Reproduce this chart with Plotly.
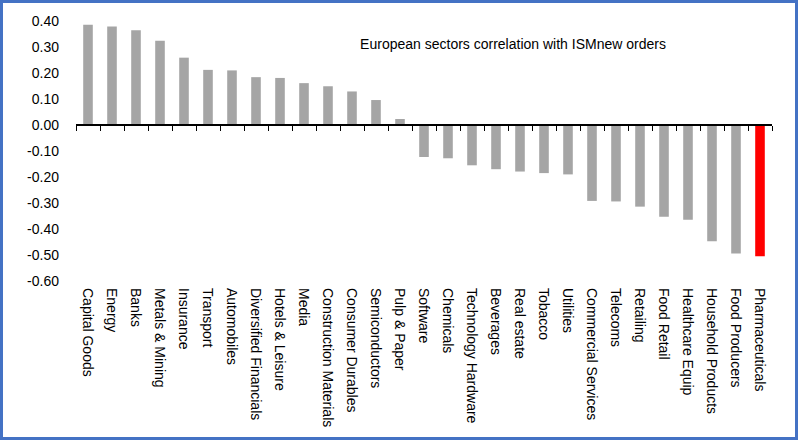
import plotly.graph_objects as go

sectors = [
    "Capital Goods", "Energy", "Banks", "Metals & Mining", "Insurance", "Transport",
    "Automobiles", "Diversified Financials", "Hotels & Leisure", "Media",
    "Construction Materials", "Consumer Durables", "Semiconductors", "Pulp & Paper",
    "Software", "Chemicals", "Technology Hardware", "Beverages", "Real estate",
    "Tobacco", "Utilities", "Commercial Services", "Telecoms", "Retailing",
    "Food Retail", "Healthcare Equip", "Household Products", "Food Producers",
    "Pharmaceuticals",
]
correlation = [
    0.386, 0.379, 0.364, 0.324, 0.259, 0.212, 0.210, 0.184, 0.181, 0.161,
    0.149, 0.129, 0.096, 0.023,
    -0.123, -0.128, -0.155, -0.170, -0.179, -0.185, -0.190, -0.292, -0.294,
    -0.314, -0.353, -0.364, -0.447, -0.494, -0.505,
]
highlight = "Pharmaceuticals"
y_ticks = [0.40, 0.30, 0.20, 0.10, 0.00, -0.10, -0.20, -0.30, -0.40, -0.50, -0.60]
y_tick_labels = [f"{v:.2f}" for v in y_ticks]
title_text = "European sectors correlation with ISMnew orders"

GRAY = "#a5a5a5"
RED = "#ff0000"
colors = [RED if s == highlight else GRAY for s in sectors]

W, H = 798, 440
ML, MR, MT, MB = 76, 26, 21, 159
PW, PH = W - ML - MR, H - MT - MB
FONT = "Liberation Sans"

fig = go.Figure()
fig.add_trace(go.Bar(
    x=sectors, y=correlation, marker=dict(color=colors, line=dict(width=0)),
    xaxis="x", yaxis="y", hoverinfo="x+y", showlegend=False,
))
# invisible trace carrying the category labels on the bottom axis
fig.add_trace(go.Scatter(
    x=sectors, y=correlation, mode="markers", marker=dict(opacity=0),
    xaxis="x2", yaxis="y", hoverinfo="skip", showlegend=False,
))

y_lo, y_hi = -0.60, 0.40
zero_pos = (0 - y_lo) / (y_hi - y_lo)

fig.update_layout(
    width=W, height=H,
    margin=dict(l=ML, r=MR, t=MT, b=MB),
    paper_bgcolor="white", plot_bgcolor="white",
    font=dict(family=FONT, size=14, color="black"),
    bargap=0.6,
    xaxis=dict(
        type="category", categoryorder="array", categoryarray=sectors,
        range=[-0.5, len(sectors) - 0.5],
        anchor="free", position=zero_pos,
        showline=True, linecolor="black", linewidth=1.5,
        ticks="outside", tickson="boundaries", ticklen=5, tickwidth=1, tickcolor="black",
        showticklabels=False, showgrid=False, zeroline=False, fixedrange=True,
    ),
    xaxis2=dict(
        type="category", categoryorder="array", categoryarray=sectors,
        range=[-0.5, len(sectors) - 0.5],
        overlaying="x", anchor="y", side="bottom",
        showline=False, ticks="", showgrid=False, zeroline=False,
        tickangle=90, ticklabelstandoff=6,
        tickfont=dict(family=FONT, size=14, color="black"),
    ),
    yaxis=dict(
        range=[y_lo, y_hi], tickvals=y_ticks, ticktext=y_tick_labels,
        showline=False, ticks="", showgrid=False, zeroline=False,
        ticklabelstandoff=16,
        tickfont=dict(family=FONT, size=14, color="black"),
    ),
    title=dict(
        text=title_text, font=dict(family=FONT, size=14, color="black"),
        xref="paper", x=(513 - ML) / PW, xanchor="center",
        yref="container", y=1 - 44 / H, yanchor="middle",
    ),
)

# outer blue frame around the whole chart image
fig.add_shape(
    type="rect", xref="paper", yref="paper",
    x0=(1.5 - ML) / PW, x1=(796.5 - ML) / PW,
    y0=(H - MB - 438.5) / PH, y1=(H - MB - 1.5) / PH,
    line=dict(color="#4472c4", width=3), fillcolor="rgba(0,0,0,0)", layer="above",
)

fig.write_html(
    "out.html",
    config={"displayModeBar": False},
    post_script="document.body.style.margin='0';document.body.style.overflow='hidden';",
)
